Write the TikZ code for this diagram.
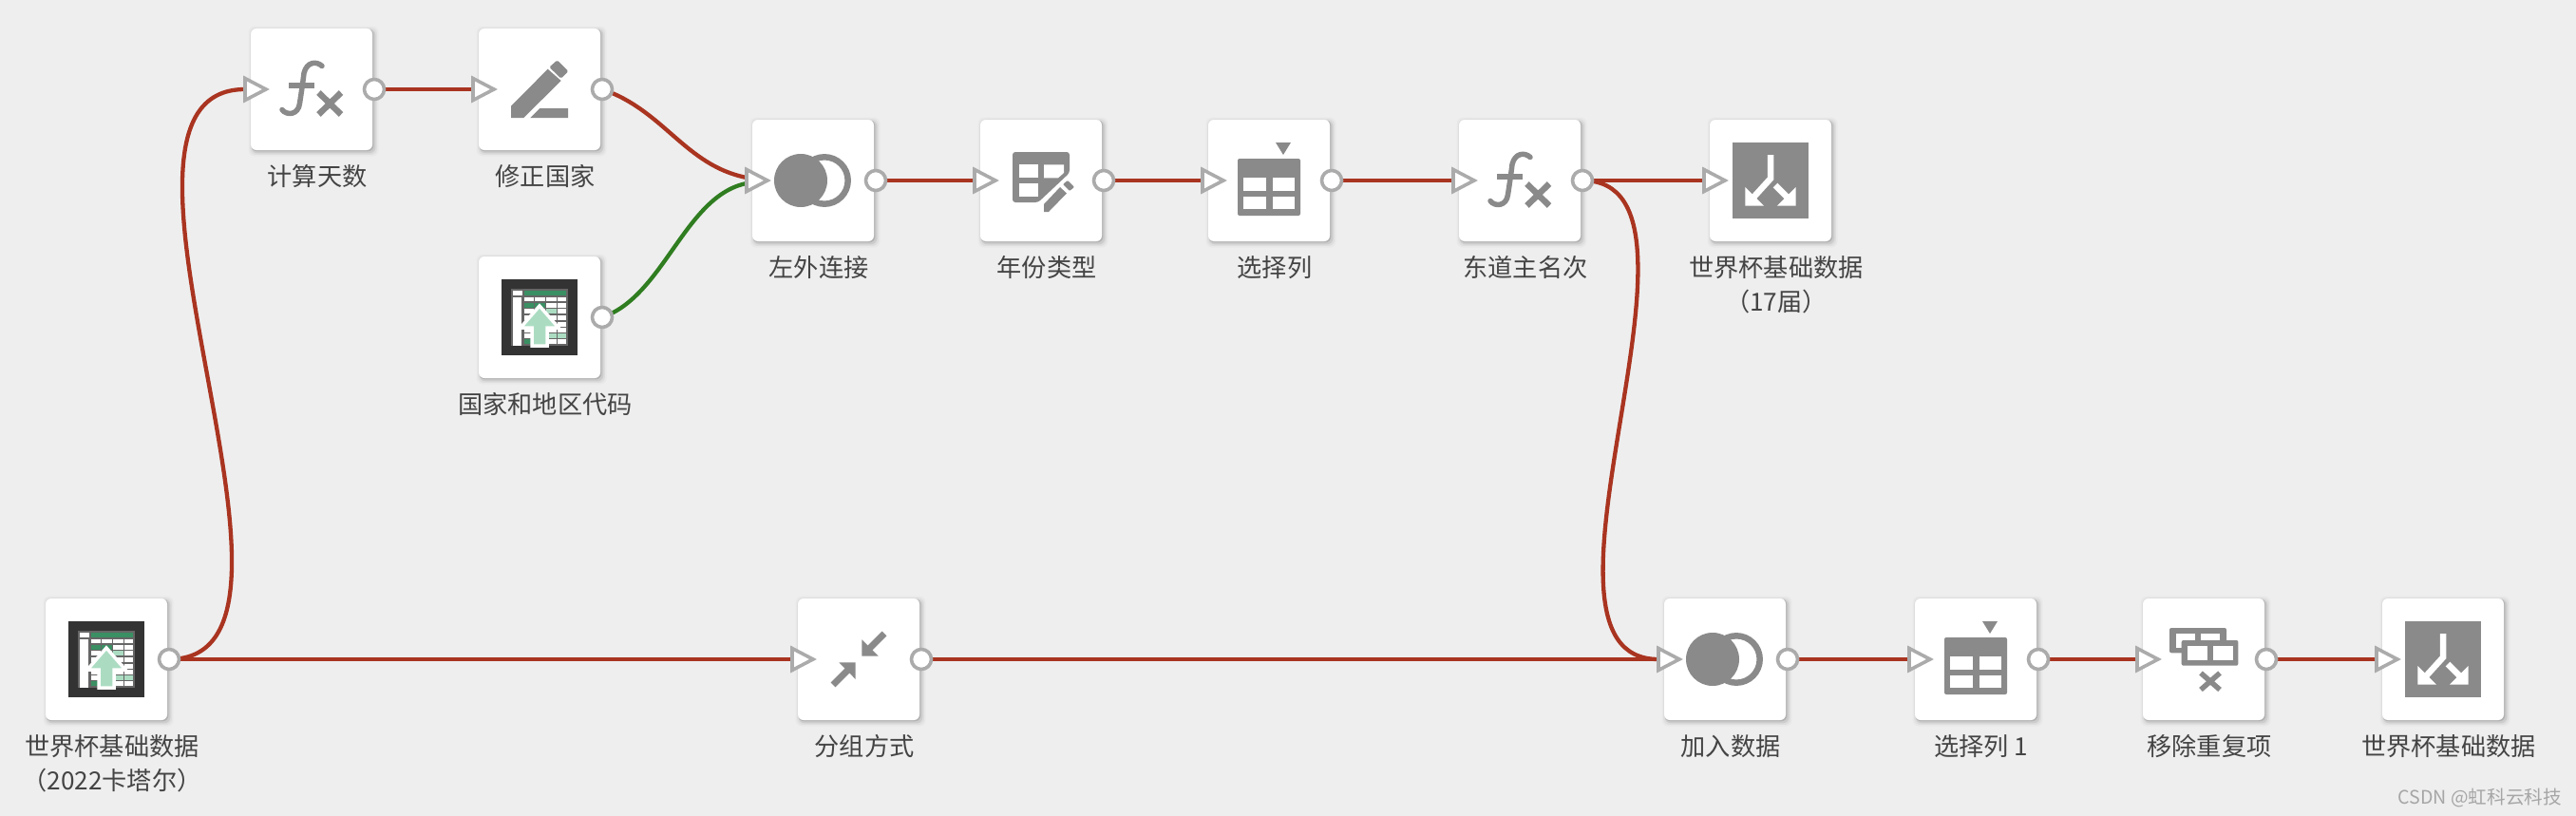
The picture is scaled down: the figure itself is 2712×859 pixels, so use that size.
\documentclass[tikz,border=0pt]{standalone}
\usepackage{fontspec}
\setmainfont{Noto Sans CJK SC}
\usetikzlibrary{shadows}
\definecolor{bgc}{HTML}{EEEEEE}
\definecolor{iconc}{HTML}{8A8A8A}
\definecolor{portc}{HTML}{ABABAB}
\definecolor{linkred}{HTML}{A93420}
\definecolor{linkgreen}{HTML}{2F7D20}
\definecolor{txtc}{HTML}{444444}
\definecolor{xdark}{HTML}{333333}
\definecolor{xgrey}{HTML}{666666}
\definecolor{xgreen}{HTML}{3A8F63}
\definecolor{xmint}{HTML}{ABDCC2}
\tikzset{
  stepbox/.style={fill=white,rounded corners=6pt,minimum width=128pt,minimum height=128pt,inner sep=0pt,
    general shadow={shadow xshift=2pt,shadow yshift=-2pt,shadow scale=1.07,fill=black,opacity=.025,rounded corners=8pt},
    general shadow={shadow xshift=2pt,shadow yshift=-2pt,shadow scale=1.045,fill=black,opacity=.04,rounded corners=7pt},
    general shadow={shadow xshift=2pt,shadow yshift=-2pt,shadow scale=1.02,fill=black,opacity=.08,rounded corners=6pt},
    general shadow={shadow xshift=1pt,shadow yshift=-1pt,shadow scale=1.005,fill=black,opacity=.12,rounded corners=6pt}},
  nodetext/.style={text=txtc,align=center,font=\fontsize{26.2pt}{36pt}\selectfont,inner sep=0pt},
  link/.style={draw=linkred,line width=4.3pt},
  glink/.style={draw=linkgreen,line width=4.3pt},
  porttri/.style={draw=portc,fill=white,line width=3.6pt,miter limit=10},
  portcirc/.style={circle,draw=portc,fill=white,line width=3.6pt,minimum size=21pt,inner sep=0pt},
  pics/fxicon/.style={code={
    \draw[iconc,line width=5.5pt,line cap=round] (11,-24.5) .. controls (5,-30) and (-5,-29) .. (-8,-17)
       .. controls (-9,-8) and (-11,5) .. (-12.5,15) .. controls (-14,27) and (-26,28) .. (-31,21.5);
    \draw[iconc,line width=6.5pt] (-24,-4) -- (2.7,-4);
    \draw[iconc,line width=6.5pt] (7.5,3.5) -- (31,26.5) (31,3.5) -- (7.5,26.5);
  }},
  pics/pencilicon/.style={code={
    \fill[iconc] (-30,30) -- (-30,17.7) -- (8.7,-21.3) -- (22.7,-9) -- (-16.7,30) -- cycle;
    \fill[iconc,rounded corners=1.5pt] (10.3,-23.3) -- (18.7,-30.7) -- (30.3,-19) -- (22.7,-11.3) -- cycle;
    \fill[iconc] (-9.7,30) -- (0.3,20) -- (30,20) -- (30,30) -- cycle;
  }},
  pics/joinicon/.style={code={
    \draw[iconc,line width=6.5pt] (12,0) circle (24.7);
    \fill[iconc] (-13,0) circle (28);
  }},
  pics/yeartypeicon/.style={code={
    \fill[iconc,rounded corners=3pt] (-30,-30) -- (30,-30) -- (30,-8) -- (-3,23) -- (-30,23) -- cycle;
    \fill[white] (-23,-16.7) rectangle (-3.4,-2.7);
    \fill[white] (3,-16.7) -- (24,-16.7) -- (24,-8) -- (18,-2.7) -- (3,-2.7) -- cycle;
    \fill[white] (-23,3.3) rectangle (-3.4,16.7);
    \fill[iconc] (3,33) -- (3,25) -- (20,7) -- (27,13.5) -- (8,33) -- cycle;
    \fill[iconc,rounded corners=1pt] (23,4) -- (28,0) -- (35,7) -- (30,11) -- cycle;
  }},
  pics/selecticon/.style={code={
    \fill[iconc] (7,-40) -- (23,-40) -- (15,-27) -- cycle;
    \fill[iconc,rounded corners=2pt] (-33,-23) rectangle (33,37);
    \fill[white] (-27,-3.3) rectangle (-3.4,10.7);
    \fill[white] (3.8,-3.3) rectangle (27,10.7);
    \fill[white] (-27,16.7) rectangle (-3.4,30);
    \fill[white] (3.8,16.7) rectangle (27,30);
  }},
  pics/outicon/.style={code={
    \fill[iconc] (-40,-40) rectangle (40,40);
    \draw[white,line width=6.5pt] (0,-27) -- (0,-2) -- (-20,20);
    \draw[white,line width=6.5pt] (5,5) -- (20,20);
    \fill[white] (-26.7,26.7) -- (-26.7,7) -- (-7,26.7) -- cycle;
    \fill[white] (26.7,26.7) -- (26.7,7) -- (7,26.7) -- cycle;
  }},
  pics/groupicon/.style={code={
    \fill[iconc] (3.3,-3.3) -- (3.3,-20.7) -- (20.7,-3.3) -- cycle;
    \draw[iconc,line width=7pt] (10,-10) -- (27,-27);
    \fill[iconc] (-3.3,3.3) -- (-20.7,3.3) -- (-3.3,21) -- cycle;
    \draw[iconc,line width=7pt] (-10,10) -- (-27,27);
  }},
  pics/dedupicon/.style={code={
    \fill[iconc,rounded corners=2pt] (-36,-33) rectangle (24,-6.7);
    \fill[white] (-29,-27) rectangle (-9,-12);
    \fill[white] (-2.8,-27) rectangle (17,-12);
    \fill[iconc,rounded corners=2pt] (-23.3,-20) rectangle (36.4,6.7);
    \fill[white] (-16.8,-14) rectangle (4.2,1);
    \fill[white] (10,-14) rectangle (31,1);
    \draw[iconc,line width=5.5pt] (-3,14.5) -- (17,32) (17,14.5) -- (-3,32);
  }},
  pics/excelicon/.style={code={
    \fill[xdark] (-40,-40) rectangle (40,40);
    \fill[xgrey] (-30,-30) rectangle (30,30);
    \fill[white] (-28,-28) rectangle (-18,-23);
    \fill[white] (-28,-20.7) rectangle (-18.7,30);
    \fill[xgreen] (-16,-28) rectangle (28,-23);
    \foreach \xa/\xb in {-16/-6,-4.7/6,7.3/18,19.3/28}
      \foreach \ya/\yb in {-21.3/-16.7,-15/-10,-8.7/-3.7,-2/3,4.7/9.7,11/16,17/22,23.3/28}
        \fill[white] (\xa,\ya) rectangle (\xb,\yb);
    \fill[xgreen] (-16,-15) rectangle (-6,-10);
    \fill[xgreen] (-4.7,-15) rectangle (6,-10);
    \fill[xmint] (-4.7,-8.7) rectangle (6,-3.7);
    \fill[xmint] (7.3,-8.7) rectangle (18,-3.7);
    \fill[xmint] (7.3,17) rectangle (18,22);
    \fill[xmint] (19.3,17) rectangle (28,22);
    \fill[xgreen] (-16,23.3) rectangle (-6,28);
    \fill[xmint,draw=white,line width=3.5pt,miter limit=10] (0,-12) -- (-20,11) -- (-8,11) -- (-8,30) -- (8,30) -- (8,11) -- (20,11) -- cycle;
  }},
}
\newcommand{\stepnode}[5]{%
  \node[stepbox] (#1) at (#2,#3) {};
  \pic at (#1.center) {#4};
  \coordinate (#1-o) at (#2+66,#3);
  \coordinate (#1-i) at (#2-70,#3);
  \node[nodetext,anchor=north] (#1-t) at (#2+6,#3+79) {#5};
}
\newcommand{\inport}[1]{\draw[porttri,shift={(#1-i)}] (0,-11.5) -- (0,11.5) -- (22,0) -- cycle;}
\newcommand{\outport}[1]{\node[portcirc] (#1-op) at (#1-o) {};}
\begin{document}
\begin{tikzpicture}[x=1pt,y=-1pt]
\useasboundingbox (0,0) rectangle (2712,859);
\fill[bgc] (0,0) rectangle (2712,859);
\stepnode{calc}{328}{94}{fxicon}{计算天数}
\stepnode{fix}{568}{94}{pencilicon}{修正国家}
\stepnode{code}{568}{334}{excelicon}{国家和地区代码}
\stepnode{left}{856}{190}{joinicon}{左外连接}
\stepnode{year}{1096}{190}{yeartypeicon}{年份类型}
\stepnode{sel}{1336}{190}{selecticon}{选择列}
\stepnode{host}{1600}{190}{fxicon}{东道主名次}
\stepnode{out}{1864}{190}{outicon}{世界杯基础数据\\（17届）}
\stepnode{src}{112}{694}{excelicon}{世界杯基础数据\\（2022卡塔尔）}
\stepnode{grp}{904}{694}{groupicon}{分组方式}
\stepnode{add}{1816}{694}{joinicon}{加入数据}
\stepnode{selb}{2080}{694}{selecticon}{选择列 1}
\stepnode{dedup}{2320}{694}{dedupicon}{移除重复项}
\stepnode{final}{2572}{694}{outicon}{世界杯基础数据}
% connectors
\draw[link] (src-o) .. controls +(190,0) and +(-190,0) .. (calc-i);
\draw[link] (calc-o) -- (fix-i);
\draw[link] (fix-o) .. controls +(65,22) and +(-65,-13) .. ([yshift=3pt]left-i);
\draw[glink] (code-o) .. controls +(65,-22) and +(-65,13) .. ([yshift=-3pt]left-i);
\draw[link] (left-o) -- (year-i);
\draw[link] (year-o) -- (sel-i);
\draw[link] (sel-o) -- (host-i);
\draw[link] (host-o) -- (out-i);
\draw[link] (host-o) .. controls +(162,0) and +(-162,0) .. (add-i);
\draw[link] (src-o) -- (grp-i);
\draw[link] (grp-o) -- (add-i);
\draw[link] (add-o) -- (selb-i);
\draw[link] (selb-o) -- (dedup-i);
\draw[link] (dedup-o) -- (final-i);
% ports
\inport{calc}\inport{fix}\inport{left}\inport{year}\inport{sel}\inport{host}\inport{out}
\inport{grp}\inport{add}\inport{selb}\inport{dedup}\inport{final}
\outport{calc}\outport{fix}\outport{code}\outport{left}\outport{year}\outport{sel}\outport{host}
\outport{src}\outport{grp}\outport{add}\outport{selb}\outport{dedup}
\node[text=black!35,font=\fontsize{19.6pt}{24pt}\selectfont,anchor=east,inner sep=0pt] (mark) at (2697,840) {CSDN @虹科云科技};
\end{tikzpicture}
\end{document}
